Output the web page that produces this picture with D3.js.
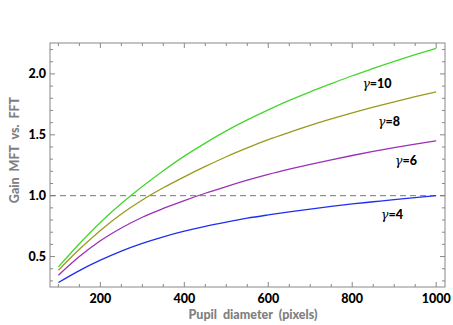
<!DOCTYPE html>
<html>
<head>
<meta charset="utf-8">
<script src="https://cdn.jsdelivr.net/npm/d3@7"></script>
<style>
  body { margin: 0; background: #fff; }
  svg text { font-family: Lato, "Open Sans", sans-serif; }
</style>
</head>
<body>
<svg id="chart"></svg>
<script>
// data, every 50 pixels
const diameters = [100, 150, 200, 250, 300, 350, 400, 450, 500, 550, 600, 650, 700, 750, 800, 850, 900, 950, 1000];
const gain4  = [0.287, 0.385, 0.47, 0.545, 0.608, 0.662, 0.708, 0.748, 0.783, 0.815, 0.842, 0.867, 0.89, 0.912, 0.932, 0.95, 0.968, 0.984, 1.0];
const gain6  = [0.347, 0.5, 0.63, 0.735, 0.823, 0.895, 0.96, 1.02, 1.075, 1.127, 1.175, 1.218, 1.258, 1.295, 1.33, 1.363, 1.394, 1.423, 1.45];
const gain8  = [0.388, 0.56, 0.715, 0.85, 0.965, 1.065, 1.155, 1.24, 1.32, 1.392, 1.46, 1.52, 1.577, 1.63, 1.68, 1.727, 1.771, 1.813, 1.853];
const gain10 = [0.415, 0.605, 0.78, 0.935, 1.075, 1.205, 1.325, 1.432, 1.532, 1.622, 1.705, 1.782, 1.853, 1.92, 1.985, 2.045, 2.103, 2.158, 2.21];
const gammas = ["4", "6", "8", "10"];
const colors = ["#1f2ff2", "#9b30b8", "#9a9a1e", "#45d62e"];
const xTicks = [200, 400, 600, 800, 1000];
const yTicks = [0.5, 1.0, 1.5, 2.0];

const width = 453, height = 325;
const margin = { top: 43, right: 8, bottom: 38, left: 50 };

const svg = d3.select("svg#chart").attr("width", width).attr("height", height);

const xScale = d3.scaleLinear().domain([80, 1021]).range([margin.left, width - margin.right]);
const yScale = d3.scaleLinear().domain([0.25, 2.254]).range([height - margin.bottom, margin.top]);

const x0 = xScale.range()[0], x1 = xScale.range()[1];
const y0 = yScale.range()[0], y1 = yScale.range()[1];

//frame
svg.append("rect")
  .attr("x", x0).attr("y", y1)
  .attr("width", x1 - x0).attr("height", y0 - y1)
  .style("fill", "none").style("stroke", "#888").style("stroke-width", 1);

//ticks pointing inward on all four sides
const xMinor = d3.range(100, 1001, 50);
const yMinor = d3.range(0.3, 2.25, 0.1).map(v => +v.toFixed(2));
const ticks = svg.append("g").style("stroke", "#888").style("stroke-width", 1);

xMinor.forEach(v => {
  const len = v % 200 == 0 ? 5 : 3;
  const x = xScale(v);
  ticks.append("line").attr("x1", x).attr("x2", x).attr("y1", y0).attr("y2", y0 - len);
  ticks.append("line").attr("x1", x).attr("x2", x).attr("y1", y1).attr("y2", y1 + len);
});
yMinor.forEach(v => {
  const len = Math.abs(v * 2 - Math.round(v * 2)) < 1e-6 ? 5 : 3;
  const y = yScale(v);
  ticks.append("line").attr("x1", x0).attr("x2", x0 + len).attr("y1", y).attr("y2", y);
  ticks.append("line").attr("x1", x1).attr("x2", x1 - len).attr("y1", y).attr("y2", y);
});

//tick labels
svg.selectAll("text.xlab")
  .data(xTicks).enter().append("text")
  .attr("class", "xlab")
  .attr("x", d => xScale(d)).attr("y", y0 + 16)
  .attr("text-anchor", "middle")
  .style("font-size", "12.5px").style("font-weight", "900")
  .text(d => d);

svg.selectAll("text.ylab")
  .data(yTicks).enter().append("text")
  .attr("class", "ylab")
  .attr("x", x0 - 4).attr("y", d => yScale(d) + 4.5)
  .attr("text-anchor", "end")
  .style("font-size", "12.5px").style("font-weight", "900")
  .text(d => d3.format(".1f")(d));

//axis titles
svg.append("text")
  .attr("x", 253).attr("y", height - 6)
  .attr("text-anchor", "middle")
  .style("font-size", "12.5px").style("font-weight", "900").style("fill", "#808080")
  .style("word-spacing", "3px")
  .text("Pupil diameter (pixels)");

svg.append("text")
  .attr("transform", "translate(19,150) rotate(-90)")
  .attr("text-anchor", "middle")
  .style("font-size", "12.5px").style("font-weight", "900").style("fill", "#808080")
  .style("word-spacing", "3px")
  .text("Gain MFT vs. FFT");

//reference line at gain 1
svg.append("line")
  .attr("x1", x0).attr("x2", x1)
  .attr("y1", yScale(1)).attr("y2", yScale(1))
  .style("stroke", "#777").style("stroke-width", 1)
  .style("stroke-dasharray", "6,4");

//curves
const series = [gain4, gain6, gain8, gain10];
const line = d3.line()
  .x((d, i) => xScale(diameters[i]))
  .y(d => yScale(d))
  .curve(d3.curveMonotoneX);

svg.selectAll("path.curve")
  .data(series).enter().append("path")
  .attr("class", "curve")
  .attr("d", line)
  .style("fill", "none")
  .style("stroke", (d, i) => colors[i])
  .style("stroke-width", 1.3);

//labels for each gamma
const labelPos = [[392, 219], [406, 165], [389, 126], [377, 88]];
gammas.forEach((g, i) => {
  const t = svg.append("text")
    .attr("x", labelPos[i][0]).attr("y", labelPos[i][1])
    .attr("text-anchor", "middle")
    .style("font-size", "12.5px");
  t.append("tspan")
    .style("font-family", "'DejaVu Serif', serif").style("font-style", "italic")
    .text("γ");
  t.append("tspan")
    .style("font-weight", "900")
    .text("=" + g);
});
</script>
</body>
</html>
